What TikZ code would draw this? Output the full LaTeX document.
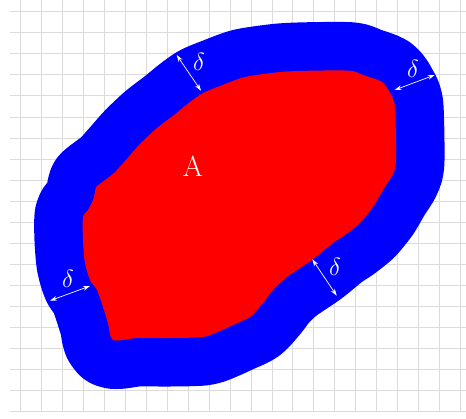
\documentclass[tikz,border=0pt]{standalone}
\usetikzlibrary{arrows.meta}
\begin{document}
\begin{tikzpicture}[x=1pt,y=-1pt,
  gridline/.style={draw=black!14,line width=0.7pt},
  dimarrow/.style={draw=white,line width=0.7pt,{Stealth[length=7pt,width=4.5pt]}-{Stealth[length=7pt,width=4.5pt]}},
  lbl/.style={text=white,font=\fontsize{29}{29}\selectfont,inner sep=0pt}]
\useasboundingbox (0,0) rectangle (466,418);
% grid
\foreach \k in {0,...,19} {\draw[gridline] (10,{11.7+21.03*\k}) -- (466,{11.7+21.03*\k});}
\foreach \k in {0,...,21} {\draw[gridline] ({20.7+20.93*\k},0) -- ({20.7+20.93*\k},411.3);}
% offset region (blue)
\def\redpath{plot[smooth cycle,tension=0.45] coordinates {
 (96,187) (101,183) (114,173) (125,161) (140,144) (157,128) (174,115) (190,102) (203,93) (220,86) (245,77) (280,72) (310,70.7) (350,70.7) (363,75) (382,82) (390,93) (395,107) (396,160) (393,174) (383,190) (373,207) (360,223) (345,235) (333,243) (312,260) (287,277) (273,290) (263,303) (250,317) (233,325) (220,331) (203,337) (170,338) (137,338) (113,340) (108,323) (103,307) (97,290) (90,280) (85,263) (83,240) (83,217) (88,210) (93,200) (95,192)}}
\fill[blue] \redpath;
\draw[blue,line width=97pt,line join=round] \redpath;
\fill[red] \redpath;
% labels
\node[lbl] (A) at (193,166) {A};
\node[lbl] (d1) at (199,62) {$\delta$};
\node[lbl] (d2) at (413,69) {$\delta$};
\node[lbl] (d3) at (68,279) {$\delta$};
\node[lbl] (d4) at (335,267) {$\delta$};
% dimension arrows
\coordinate (a1s) at (176.7,55); \coordinate (a1e) at (201,90.7);
\coordinate (a2s) at (394.7,90); \coordinate (a2e) at (434.7,75);
\coordinate (a3s) at (50,300.7); \coordinate (a3e) at (90,286);
\coordinate (a4s) at (312.3,259.3); \coordinate (a4e) at (336.7,295.7);
\draw[dimarrow] (a1s) -- (a1e);
\draw[dimarrow] (a2s) -- (a2e);
\draw[dimarrow] (a3s) -- (a3e);
\draw[dimarrow] (a4s) -- (a4e);
\end{tikzpicture}
\end{document}
